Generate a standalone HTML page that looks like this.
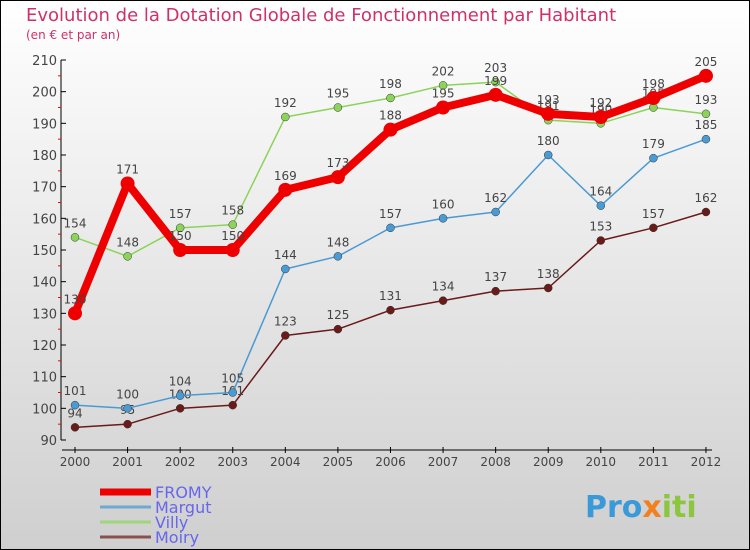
<!DOCTYPE html>
<html><head><meta charset="utf-8"><style>
body{margin:0}
svg{display:block;font-family:"DejaVu Sans","Liberation Sans",sans-serif}
</style></head><body>
<svg width="750" height="550">
<defs><linearGradient id="bg" x1="0" y1="0" x2="0" y2="1"><stop offset="0" stop-color="#ffffff"/><stop offset="1" stop-color="#cfcfcf"/></linearGradient></defs>
<rect x="0.5" y="0.5" width="749" height="549" fill="url(#bg)" stroke="#000"/>
<text x="26" y="21" font-size="18" fill="#d0306a">Evolution de la Dotation Globale de Fonctionnement par Habitant</text>
<text x="26" y="39" font-size="12" fill="#d0306a">(en € et par an)</text>
<g id="axes"></g>
<g id="series"></g>
<g id="legend"></g>
<text x="585" y="517" font-size="30" font-weight="bold" fill="#3a9ad9">Pro<tspan fill="#f08020">x</tspan><tspan fill="#8cc63f">iti</tspan></text>
</svg>
<script>
const years=[2000,2001,2002,2003,2004,2005,2006,2007,2008,2009,2010,2011,2012];
const yTicks=[90,100,110,120,130,140,150,160,170,180,190,200,210];
const fromy=[130,171,150,150,169,173,188,195,199,193,192,198,205];
const margut=[101,100,104,105,144,148,157,160,162,180,164,179,185];
const villy=[154,148,157,158,192,195,198,202,203,191,190,195,193];
const moiry=[94,95,100,101,123,125,131,134,137,138,153,157,162];
const NS="http://www.w3.org/2000/svg";
const xs=i=>75+i*52.58;
const ys=v=>440-(v-90)*3.1667;
function mk(tag,attrs,parent,txt){const e=document.createElementNS(NS,tag);for(const k in attrs)e.setAttribute(k,attrs[k]);if(txt!==undefined)e.textContent=txt;parent.appendChild(e);return e;}
const ax=document.getElementById('axes');
let l=mk('line',{x1:61,y1:60,x2:61,y2:440,stroke:'#000'},ax);


yTicks.forEach(v=>{
 mk('line',{x1:61,y1:ys(v),x2:66,y2:ys(v),stroke:'#000'},ax);
 if(v<210) mk('line',{x1:58,y1:ys(v+5),x2:61,y2:ys(v+5),stroke:'#f00'},ax);
 const t=mk('text',{x:57,y:ys(v)+5,'text-anchor':'end','font-size':13,fill:'#444'},ax,v);
 
 
});
l=mk('line',{x1:62,y1:450,x2:712,y2:450,stroke:'#000'},ax);


years.forEach((y,i)=>{
 mk('line',{x1:xs(i),y1:447,x2:xs(i),y2:453,stroke:'#000'},ax);
 const t=mk('text',{x:xs(i),y:466,'text-anchor':'middle','font-size':12,fill:'#444'},ax,y);
 
 
});
const sg=document.getElementById('series');
const defs=[
 {name:'moiry',data:moiry,color:'#6b1a1a',w:1.5,r:4},
 {name:'villy',data:villy,color:'#8cd35a',w:1.5,r:4},
 {name:'margut',data:margut,color:'#4a9ad4',w:1.5,r:4},
 {name:'fromy',data:fromy,color:'#ee0000',w:8,r:7}
];
defs.forEach(s=>{
 const g=mk('g',{},sg);
 
 
 const p=mk('polyline',{points:s.data.map((v,i)=>xs(i)+','+ys(v)).join(' '),fill:'none',stroke:s.color,'stroke-width':s.w,'stroke-linejoin':'round'},g);
 
 
 s.data.forEach((v,i)=>{
  const c=mk('circle',{cx:xs(i),cy:ys(v),r:s.r,fill:s.color,stroke:s.name==='fromy'?'none':'#333','stroke-width':0.5},g);
  
  
  const t=mk('text',{x:xs(i),y:ys(v)-10,'text-anchor':'middle','font-size':12,fill:'#444'},g,v);
  
  
 });
});
const lg=document.getElementById('legend');
const leg=[['FROMY','#ee0000',7],['Margut','#6fa8d0',3],['Villy','#9ed67a',3],['Moiry','#8a5050',3]];
leg.forEach((e,i)=>{
 const y=492+i*15;
 const ln=mk('line',{x1:100,y1:y,x2:151,y2:y,stroke:e[1],'stroke-width':e[2]},lg);
 
 
 const t=mk('text',{x:155,y:y+6,'font-size':16,fill:'#6666ee'},lg,e[0]);
 
 
});
</script>
</body></html>
